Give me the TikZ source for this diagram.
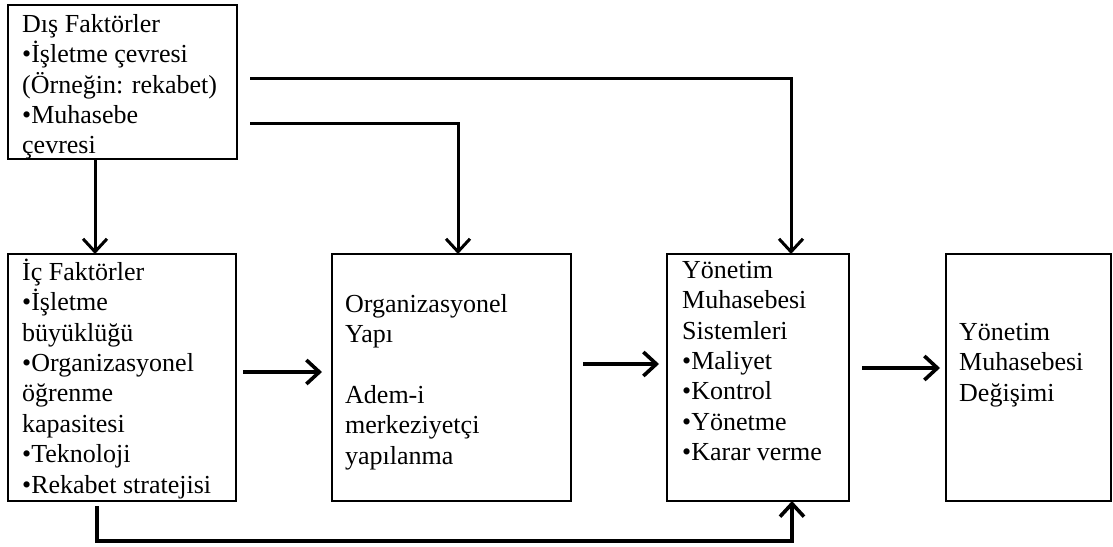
\documentclass[tikz,border=0pt]{standalone}
\usepackage{fontspec}
\setmainfont{Liberation Serif}
\usetikzlibrary{arrows.meta}
\begin{document}
\begin{tikzpicture}[x=1pt,y=-1pt,
  box/.style={draw, line width=2.2pt, inner sep=0pt, outer sep=0pt, anchor=north west},
  txt/.style={anchor=north west, inner sep=0pt, align=left, font=\fontsize{26}{30.4}\selectfont},
  tipv/.style={-{Straight Barb[length=13pt,width=24pt]}},
  conn/.style={line width=3pt, tipv},
  arr/.style={line width=3.6pt, tipv},
]
\useasboundingbox (0,0) rectangle (1113,546);

% boxes
\node[box, minimum width=229pt, minimum height=154pt] (A) at (8,5) {};
\node[box, minimum width=228pt, minimum height=247pt] (B) at (8,254) {};
\node[box, minimum width=239pt, minimum height=247pt] (C) at (332,254) {};
\node[box, minimum width=182pt, minimum height=247pt] (D) at (667,254) {};
\node[box, minimum width=165pt, minimum height=247pt] (E) at (946,254) {};

% texts
\node[txt] (At) at (22,8) {\rule{0pt}{24pt}Dış Faktörler\\•İşletme çevresi\\(Örneğin: rekabet)\\•Muhasebe\\çevresi};
\node[txt] (Bt) at (22,256) {\rule{0pt}{24pt}İç Faktörler\\•İşletme\\büyüklüğü\\•Organizasyonel\\öğrenme\\kapasitesi\\•Teknoloji\\•Rekabet stratejisi};
\node[txt] (Ct) at (345,288) {\rule{0pt}{24pt}Organizasyonel\\Yapı\\[30.4pt]Adem-i\\merkeziyetçi\\yapılanma};
\node[txt] (Dt) at (682,254) {\rule{0pt}{24pt}Yönetim\\Muhasebesi\\Sistemleri\\•Maliyet\\•Kontrol\\•Yönetme\\•Karar verme};
\node[txt] (Et) at (959,316) {\rule{0pt}{24pt}Yönetim\\Muhasebesi\\Değişimi};

% helper coordinates
\coordinate (xa) at (95,0);
\coordinate (q1) at (250,78);
\coordinate (q2) at (791,78);
\coordinate (r1) at (250,123);
\coordinate (r2) at (458,123);
\coordinate (p1) at (97,541);
\coordinate (p2) at (792,541);
\coordinate (h1) at (0,372);
\coordinate (h2) at (0,364);
\coordinate (h3) at (0,368);

% connectors
\draw[conn] (A.south -| xa) -- (B.north -| xa);
\draw[conn] (q1) -- (q2) -- (D.north -| q2);
\draw[conn] (r1) -- (r2) -- (C.north -| r2);
\draw[arr, shorten <=5pt] (B.south -| p1) -- (p1) -- (p2) -- (D.south -| p2);
\draw[arr, shorten <=7pt, shorten >=10pt] (B.east |- h1) -- (C.west |- h1);
\draw[arr, shorten <=12pt, shorten >=8pt] (C.east |- h2) -- (D.west |- h2);
\draw[arr, shorten <=13pt, shorten >=6pt] (D.east |- h3) -- (E.west |- h3);
\end{tikzpicture}
\end{document}
